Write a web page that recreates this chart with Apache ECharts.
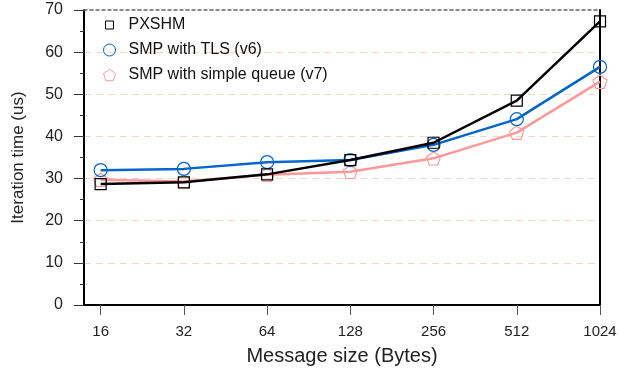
<!DOCTYPE html>
<html>
<head>
<meta charset="utf-8">
<script src="https://cdn.jsdelivr.net/npm/echarts@6/dist/echarts.min.js"></script>
<style>
  html, body { margin: 0; padding: 0; background: #fff; }
  #chart { width: 619px; height: 368px; }
</style>
</head>
<body>
<div id="chart"></div>
<script>
// message sizes on the x axis
const categories = ['16', '32', '64', '128', '256', '512', '1024']
// iteration time (us)
const pxshm = [28.7, 29.1, 31.0, 34.4, 38.5, 48.5, 67.3]
const smpTls = [32.0, 32.3, 33.9, 34.4, 38.0, 44.1, 56.5]
const smpQueue = [29.7, 29.3, 30.9, 31.6, 34.8, 40.9, 53.0]
const yTicks = [0, 10, 20, 30, 40, 50, 60, 70]

const font = 'Liberation Sans, Arial, sans-serif'
const pentagon = 'path://M0,-1 L0.951,-0.309 L0.588,0.809 L-0.588,0.809 L-0.951,-0.309 Z'
// smaller square inside the 12px legend box
const legendSquare = 'path://M-6,-6 M6,6 M-4,-4 L4,-4 L4,4 L-4,4 Z'
const idx = categories.map((c, i) => i)
const toPoints = (arr) => arr.map((v, i) => [i, v])

const myChart = echarts.init(document.getElementById('chart'))
const option = {
  animation: false,
  textStyle: { fontFamily: font },
  grid: { left: 84, right: 19, top: 10, bottom: 63, outerBoundsMode: 'none' },
  legend: {
    orient: 'vertical',
    left: 98,
    top: 12,
    itemWidth: 12,
    itemHeight: 12,
    itemGap: 9,
    itemStyle: { borderWidth: 1 },
    textStyle: { fontFamily: font, fontSize: 16, color: '#111', padding: [0, 0, 0, 8] },
    data: [
      { name: 'PXSHM', icon: legendSquare },
      { name: 'SMP with TLS (v6)', icon: 'circle' },
      { name: 'SMP with simple queue (v7)', icon: pentagon }
    ]
  },
  xAxis: [
    {
      type: 'value',
      min: -0.2,
      max: 6,
      name: 'Message size (Bytes)',
      nameLocation: 'middle',
      nameGap: 41,
      nameTextStyle: { fontFamily: font, fontSize: 20, color: '#222' },
      axisLine: { show: true, onZero: false, lineStyle: { color: '#000', width: 2 } },
      axisTick: { show: true, length: 10, customValues: idx, lineStyle: { color: '#555', width: 1 } },
      axisLabel: {
        customValues: idx,
        margin: 19,
        fontSize: 15,
        color: '#222',
        fontFamily: font,
        formatter: (v) => categories[Math.round(v)]
      },
      splitLine: { show: false }
    },
    {
      type: 'value',
      position: 'top',
      min: -0.2,
      max: 6,
      axisLine: { show: true, onZero: false, lineStyle: { color: '#666', width: 1.5, type: [3, 3] } },
      axisTick: { show: false },
      axisLabel: { show: false },
      splitLine: { show: false }
    }
  ],
  yAxis: [
    {
      type: 'value',
      min: 0,
      max: 70,
      interval: 10,
      name: 'Iteration time (us)',
      nameLocation: 'middle',
      nameGap: 57,
      nameTextStyle: { fontFamily: font, fontSize: 17, color: '#222' },
      axisLine: { show: true, onZero: false, lineStyle: { color: '#000', width: 2 } },
      axisTick: { show: true, length: 10, lineStyle: { color: '#333', width: 1 } },
      minorTick: { show: true, splitNumber: 2, length: 4, lineStyle: { color: '#333', width: 1 } },
      axisLabel: {
        customValues: yTicks,
        margin: 21,
        fontSize: 16,
        color: '#222',
        fontFamily: font
      },
      splitLine: {
        show: true,
        showMinLine: false,
        showMaxLine: false,
        lineStyle: { color: '#f3d6cc', width: 1, type: [7, 5] }
      }
    },
    {
      type: 'value',
      position: 'right',
      min: 0,
      max: 70,
      interval: 10,
      axisLine: { show: true, onZero: false, lineStyle: { color: '#000', width: 2 } },
      axisTick: { show: false },
      axisLabel: { show: false },
      splitLine: { show: false }
    }
  ],
  series: [
    {
      name: 'PXSHM',
      type: 'line',
      data: toPoints(pxshm),
      symbol: 'rect',
      symbolSize: 11,
      lineStyle: { color: '#000', width: 2.5 },
      itemStyle: { color: 'rgba(255,255,255,0)', borderColor: '#000', borderWidth: 1.2 },
      z: 4
    },
    {
      name: 'SMP with TLS (v6)',
      type: 'line',
      data: toPoints(smpTls),
      symbol: 'circle',
      symbolSize: 13,
      lineStyle: { color: '#0066cc', width: 2.5 },
      itemStyle: { color: 'rgba(255,255,255,0)', borderColor: '#0066cc', borderWidth: 1.2 },
      z: 3
    },
    {
      name: 'SMP with simple queue (v7)',
      type: 'line',
      data: toPoints(smpQueue),
      symbol: pentagon,
      symbolSize: 14,
      symbolKeepAspect: true,
      lineStyle: { color: '#ff9999', width: 2.5 },
      itemStyle: { color: 'rgba(255,255,255,0)', borderColor: '#ff9999', borderWidth: 1.2 },
      z: 2
    }
  ]
}
myChart.setOption(option)
</script>
</body>
</html>
